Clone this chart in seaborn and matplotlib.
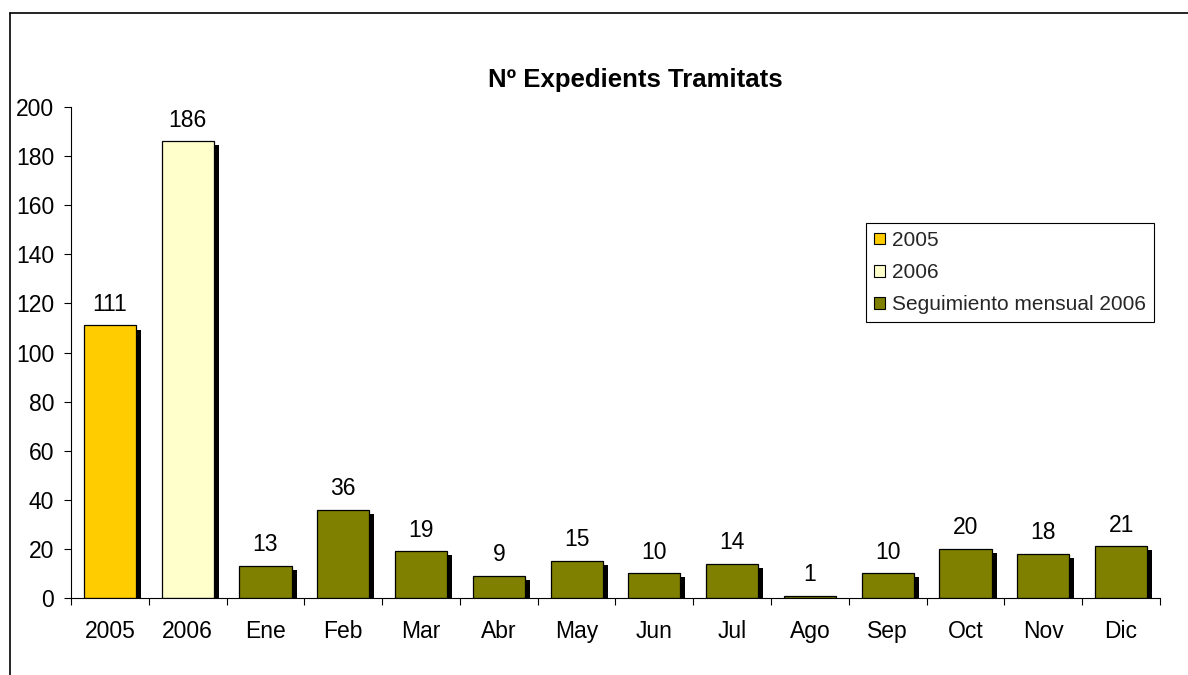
import matplotlib
matplotlib.use('Agg')
import numpy as np
import pandas as pd
import matplotlib.pyplot as plt
import matplotlib.patheffects as pe
from matplotlib.patches import Patch
from matplotlib.lines import Line2D
import seaborn as sns

# ---- data ----
categories = ['2005', '2006', 'Ene', 'Feb', 'Mar', 'Abr', 'May', 'Jun',
              'Jul', 'Ago', 'Sep', 'Oct', 'Nov', 'Dic']
values = [111, 186, 13, 36, 19, 9, 15, 10, 14, 1, 10, 20, 18, 21]
series = ['2005', '2006'] + ['Seguimiento mensual 2006'] * 12
series_names = ['2005', '2006', 'Seguimiento mensual 2006']
series_colors = ['#FFCC00', '#FFFFCC', '#808000']
title = 'Nº Expedients Tramitats'
y_ticks = list(range(0, 201, 20))

sns.set_theme(style='white')
plt.rcParams['font.family'] = ['Liberation Sans', 'DejaVu Sans']

df = pd.DataFrame({'cat': categories, 'val': values, 'series': series})

W, H = 1188, 675
fig = plt.figure(figsize=(W / 100, H / 100), dpi=100)
fig.patch.set_facecolor('white')
ax = fig.add_axes([71 / W, 1 - 598 / H, (1160 - 71) / W, (598 - 107) / H])

sns.barplot(data=df, x='cat', y='val', hue='series', order=categories,
            hue_order=series_names,
            palette=dict(zip(series_names, series_colors)),
            dodge=False, width=0.67, saturation=1,
            edgecolor='black', linewidth=0.9, legend=False, ax=ax)

for p in ax.patches:
    p.set_path_effects([pe.SimplePatchShadow(offset=(3.6, -2.9),
                                             shadow_rgbFace='black', alpha=1.0),
                        pe.Normal()])

for cont in ax.containers:
    ax.bar_label(cont, padding=7, fontsize=16.5, color='black')

ax.set_ylim(0, 200)
ax.set_xlim(-0.5, len(categories) - 0.5)
ax.set_yticks(y_ticks)
ax.set_xticks(range(len(categories)))
ax.set_xticklabels(categories)
ax.set_xticks(np.arange(-0.5, len(categories), 1), minor=True)
ax.tick_params(axis='x', which='major', length=0, pad=16, labelsize=16.5,
               bottom=True, labelcolor='black')
ax.tick_params(axis='x', which='minor', length=5, width=0.8, direction='out',
               bottom=True, color='black')
ax.tick_params(axis='y', which='major', length=5, width=0.8, direction='out',
               left=True, pad=7, labelsize=16.5, color='black', labelcolor='black')
ax.set_xlabel('')
ax.set_ylabel('')
for s in ['top', 'right']:
    ax.spines[s].set_visible(False)
for s in ['left', 'bottom']:
    ax.spines[s].set_color('black')
    ax.spines[s].set_linewidth(0.8)

handles = [Patch(facecolor=c, edgecolor='black', linewidth=0.8, label=n)
           for n, c in zip(series_names, series_colors)]
leg = fig.legend(handles=handles, loc='upper left',
                 bbox_to_anchor=(866 / W, 1 - 223 / H),
                 frameon=True, fancybox=False, edgecolor='black', framealpha=1,
                 fontsize=15, handlelength=0.53, handleheight=0.5,
                 handletextpad=0.35, labelspacing=0.63, borderpad=0.38,
                 borderaxespad=0)
leg.get_frame().set_linewidth(0.8)

fig.text(635 / W, 1 - 80 / H, title, ha='center', va='center',
         fontsize=18.5, fontweight='bold', color='black')

fig.add_artist(Line2D([10 / W, 10 / W], [0, 1 - 13 / H], color='black',
                      lw=1.2, transform=fig.transFigure))
fig.add_artist(Line2D([10 / W, 1], [1 - 13 / H, 1 - 13 / H], color='black',
                      lw=1.2, transform=fig.transFigure))

fig.savefig('out.png', dpi=100)
